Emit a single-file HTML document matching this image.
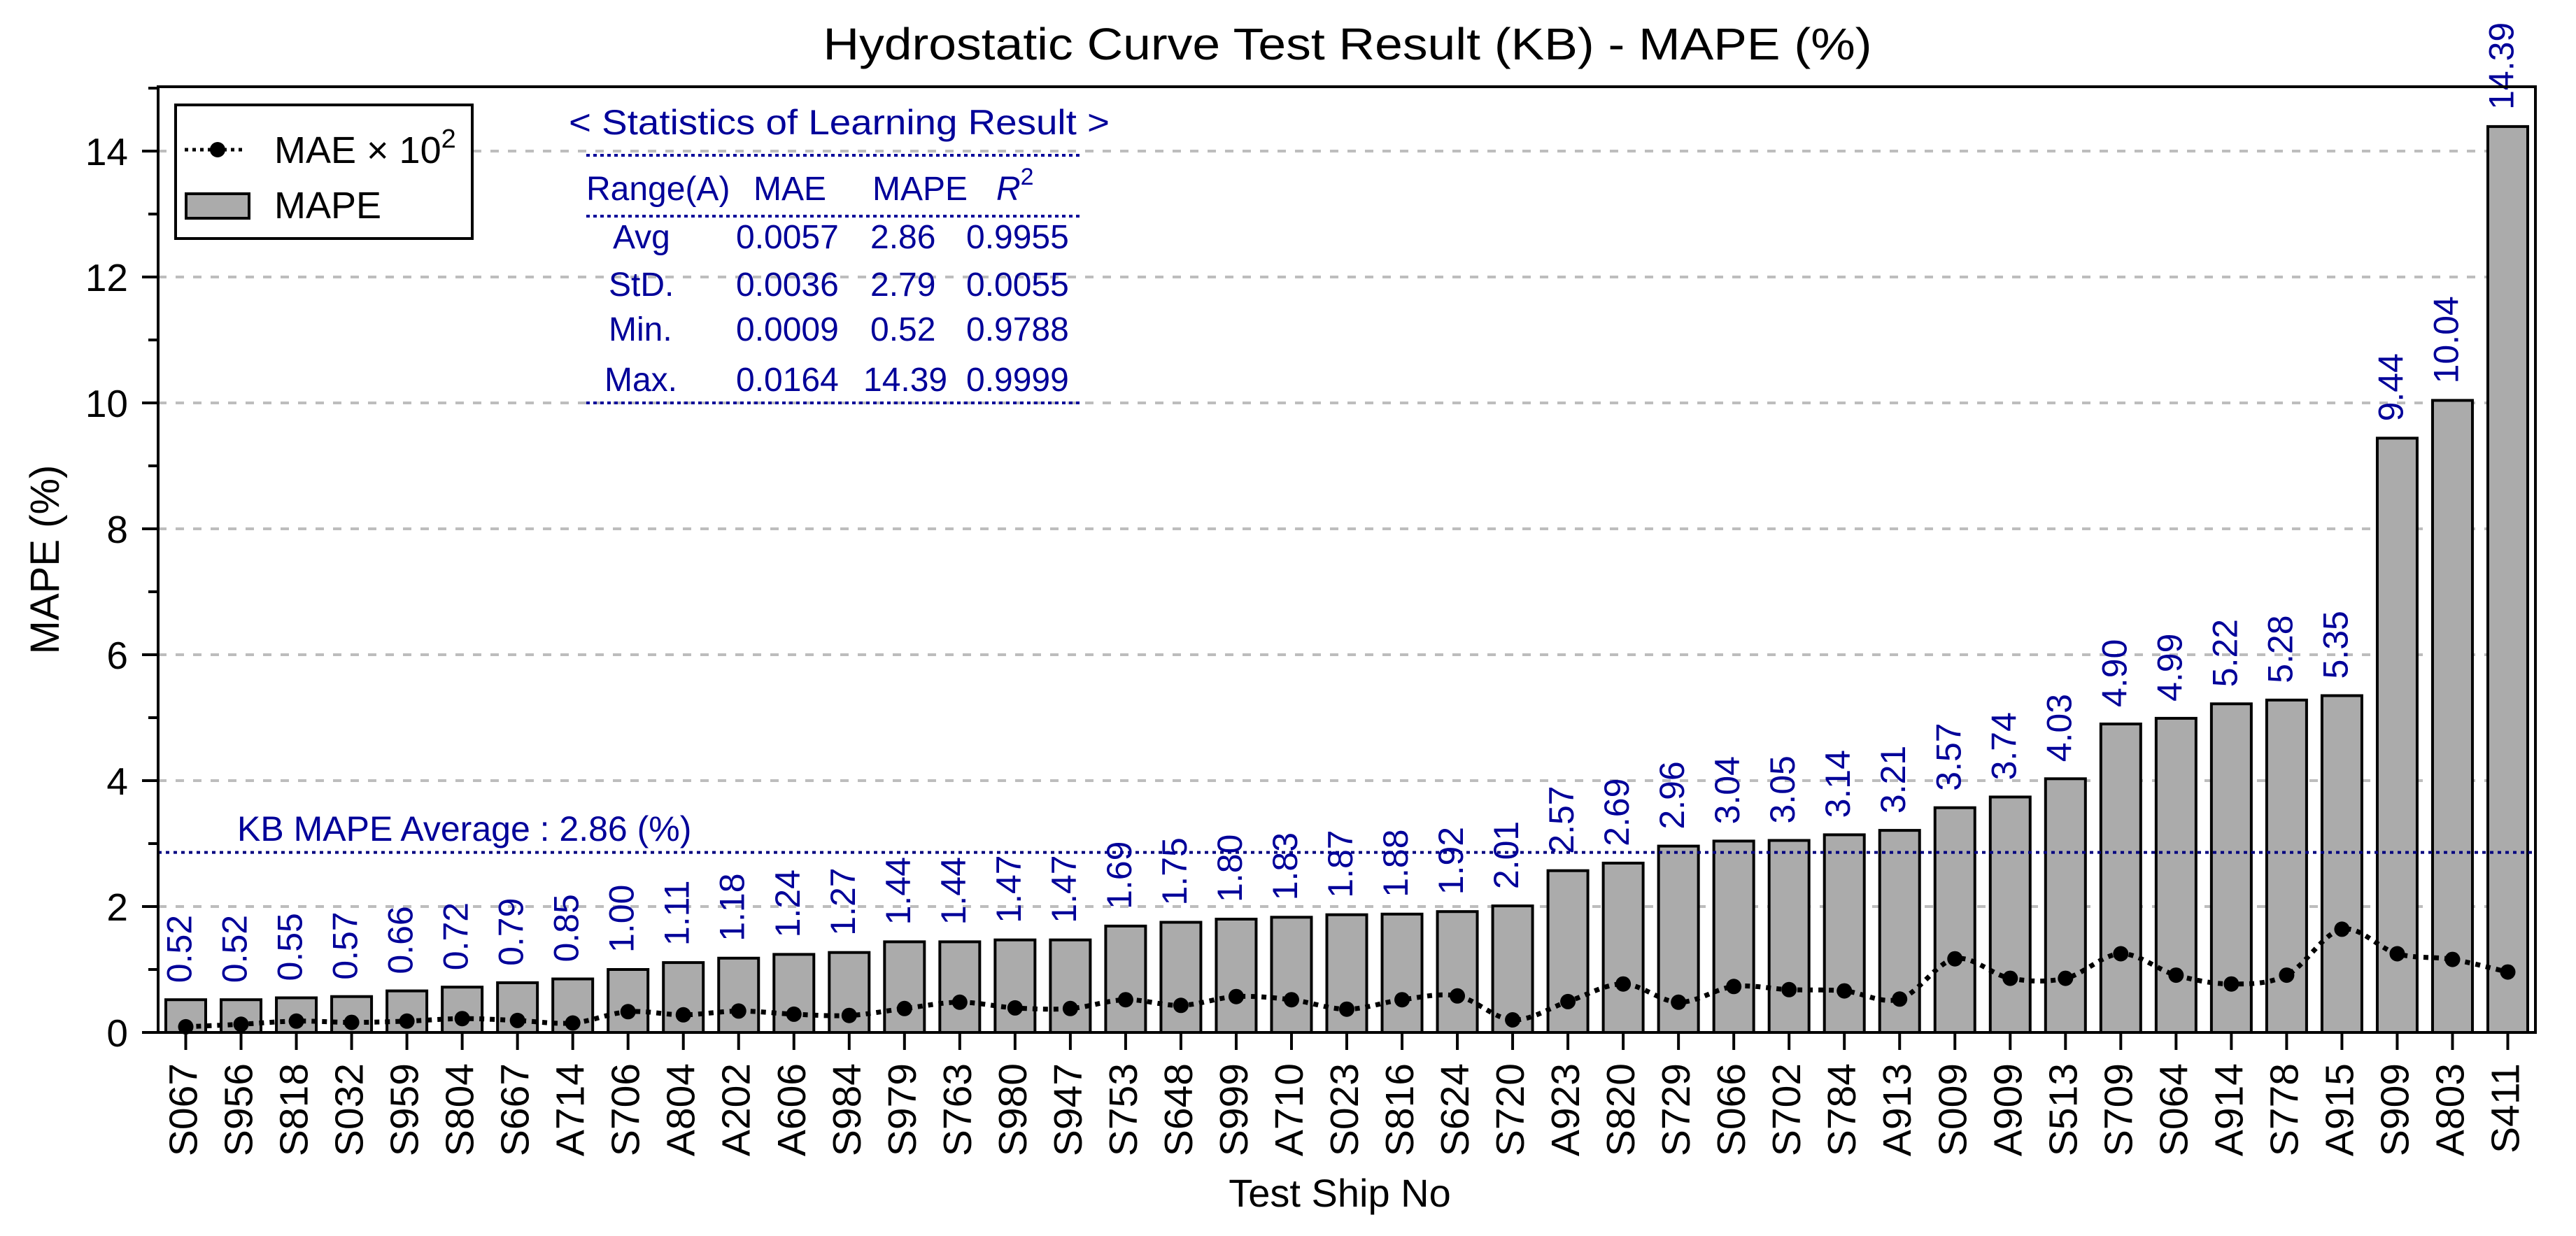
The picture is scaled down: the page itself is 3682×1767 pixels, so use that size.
<!DOCTYPE html>
<html><head><meta charset="utf-8"><style>
html,body{margin:0;padding:0;background:#fff}
svg{display:block;font-family:"Liberation Sans",Arial,sans-serif}
</style></head><body>
<svg id="chart" width="3682" height="1767" viewBox="0 0 3682 1767" xmlns="http://www.w3.org/2000/svg">
<g id="grid"></g>
<g id="bars"></g>
<line x1="226" x2="3624" y1="1218.6" y2="1218.6" stroke="#000080" stroke-width="4" stroke-dasharray="5 6"/>
<text x="339" y="1202" font-size="50" fill="#000099">KB MAPE Average : 2.86 (%)</text>
<g id="mae"></g>
<g id="vlabels"></g>
<g id="axes"></g>
<rect x="226" y="124" width="3398" height="1352" fill="none" stroke="#000" stroke-width="4"/>
<text x="1926" y="85" font-size="64" text-anchor="middle" textLength="1499" lengthAdjust="spacingAndGlyphs">Hydrostatic Curve Test Result (KB) - MAPE (%)</text>
<text x="1915" y="1725" font-size="56" text-anchor="middle">Test Ship No</text>
<text transform="translate(84,800) rotate(-90)" font-size="58" text-anchor="middle">MAPE (%)</text>
<g>
<rect x="251" y="150" width="424" height="191" fill="#fff" stroke="#000" stroke-width="4"/>
<line x1="264" x2="352" y1="214" y2="214" stroke="#000" stroke-width="5" stroke-dasharray="5 6"/>
<circle cx="311" cy="214" r="11" fill="#000"/>
<text x="392" y="233" font-size="54">MAE × 10<tspan dy="-22" font-size="38">2</tspan></text>
<rect x="266" y="277" width="90" height="35" fill="#ababab" stroke="#000" stroke-width="4"/>
<text x="392" y="312" font-size="54">MAPE</text>
</g>
<g fill="#000099" font-size="48">
<text x="813" y="192" font-size="50" textLength="773" lengthAdjust="spacingAndGlyphs">&lt; Statistics of Learning Result &gt;</text>
<line x1="838" x2="1546" y1="222" y2="222" stroke="#000099" stroke-width="4" stroke-dasharray="5 5"/>
<text x="838" y="286">Range(A)</text>
<text x="1077" y="286">MAE</text>
<text x="1247" y="286">MAPE</text>
<text x="1424" y="286" font-style="italic">R<tspan dy="-22" font-size="34" font-style="normal">2</tspan></text>
<line x1="838" x2="1546" y1="309" y2="309" stroke="#000099" stroke-width="4" stroke-dasharray="5 5"/>
<text x="876" y="355">Avg</text>
<text x="1052" y="355">0.0057</text>
<text x="1244" y="355">2.86</text>
<text x="1381" y="355">0.9955</text>
<text x="870" y="423">StD.</text>
<text x="1052" y="423">0.0036</text>
<text x="1244" y="423">2.79</text>
<text x="1381" y="423">0.0055</text>
<text x="870" y="487">Min.</text>
<text x="1052" y="487">0.0009</text>
<text x="1244" y="487">0.52</text>
<text x="1381" y="487">0.9788</text>
<text x="864" y="559">Max.</text>
<text x="1052" y="559">0.0164</text>
<text x="1234" y="559">14.39</text>
<text x="1381" y="559">0.9999</text>
<line x1="838" x2="1546" y1="576" y2="576" stroke="#000099" stroke-width="4" stroke-dasharray="5 5"/>
</g>
</svg>
<script>
const categories = ["S067","S956","S818","S032","S959","S804","S667","A714","S706","A804","A202","A606","S984","S979","S763","S980","S947","S753","S648","S999","A710","S023","S816","S624","S720","A923","S820","S729","S066","S702","S784","A913","S009","A909","S513","S709","S064","A914","S778","A915","S909","A803","S411"];
const mapeValues = [0.52,0.52,0.55,0.57,0.66,0.72,0.79,0.85,1.00,1.11,1.18,1.24,1.27,1.44,1.44,1.47,1.47,1.69,1.75,1.80,1.83,1.87,1.88,1.92,2.01,2.57,2.69,2.96,3.04,3.05,3.14,3.21,3.57,3.74,4.03,4.90,4.99,5.22,5.28,5.35,9.44,10.04,14.39];
const maeValues = [0.09,0.13,0.18,0.16,0.18,0.22,0.19,0.15,0.33,0.28,0.34,0.29,0.27,0.38,0.48,0.39,0.38,0.52,0.43,0.57,0.52,0.37,0.52,0.58,0.20,0.49,0.77,0.48,0.73,0.68,0.66,0.53,1.17,0.86,0.86,1.25,0.91,0.77,0.91,1.64,1.25,1.16,0.96];
const majorTicks = [0,2,4,6,8,10,12,14];
const minorTicks = [1,3,5,7,9,11,13,15];
const avgValue = 2.86;

const NS = "http://www.w3.org/2000/svg";
const X0 = 226, X1 = 3624, Y0 = 1476, PXU = 90;
const band = (X1 - X0) / categories.length;
const xc = i => X0 + band * (i + 0.5);
const y = v => Y0 - v * PXU;
function mk(tag, attrs, parent, txt) {
  const e = document.createElementNS(NS, tag);
  for (const k in attrs) e.setAttribute(k, attrs[k]);
  if (txt !== undefined) e.textContent = txt;
  parent.appendChild(e);
  return e;
}
const grid = document.getElementById('grid');
const axes = document.getElementById('axes');
majorTicks.forEach(t => {
  if (t > 0) {
    const g = mk('line', {x1: X0, x2: X1, y1: y(t), y2: y(t), stroke: '#bdbdbd', 'stroke-width': 4, 'stroke-dasharray': '12 13'}, grid);
    
    
  }
  const tk = mk('line', {x1: X0 - 23, x2: X0, y1: y(t), y2: y(t), stroke: '#000', 'stroke-width': 4}, axes);
  
  
  const lb = mk('text', {x: 183, y: y(t) + 20, 'font-size': 55, 'text-anchor': 'end'}, axes, String(t));
  
  
});
minorTicks.forEach(t => {
  if (y(t) < 124) return;
  const tk = mk('line', {x1: X0 - 14, x2: X0, y1: y(t), y2: y(t), stroke: '#000', 'stroke-width': 4}, axes);
  
  
});
const bars = document.getElementById('bars');
const vl = document.getElementById('vlabels');
categories.forEach((c, i) => {
  const v = mapeValues[i];
  const b = mk('rect', {x: xc(i) - 28.5, y: y(v), width: 57, height: Y0 - y(v), fill: '#ababab', stroke: '#000', 'stroke-width': 4}, bars);
  
  
  const t = mk('text', {transform: `translate(${xc(i) + 8},${y(v) - 24}) rotate(-90)`, 'font-size': 50, fill: '#000099'}, vl, v.toFixed(2));
  
  
  const tk = mk('line', {x1: xc(i), x2: xc(i), y1: Y0, y2: Y0 + 25, stroke: '#000', 'stroke-width': 4}, axes);
  
  
  const xl = mk('text', {transform: `translate(${xc(i) + 16},1520) rotate(-90)`, 'font-size': 57, 'text-anchor': 'end'}, axes, c);
  
  
});
const mae = document.getElementById('mae');
const pts = maeValues.map((v, i) => [xc(i), y(v)]);
let d = `M${pts[0][0]},${pts[0][1]}`;
for (let i = 0; i < pts.length - 1; i++) {
  const p0 = pts[Math.max(0, i - 1)], p1 = pts[i], p2 = pts[i + 1], p3 = pts[Math.min(pts.length - 1, i + 2)];
  const c1 = [p1[0] + (p2[0] - p0[0]) / 6, p1[1] + (p2[1] - p0[1]) / 6];
  const c2 = [p2[0] - (p3[0] - p1[0]) / 6, p2[1] - (p3[1] - p1[1]) / 6];
  d += ` C${c1[0]},${c1[1]} ${c2[0]},${c2[1]} ${p2[0]},${p2[1]}`;
}
const line = mk('path', {d: d, fill: 'none', stroke: '#000', 'stroke-width': 7, 'stroke-dasharray': '7 8'}, mae);


pts.forEach((p, i) => {
  const c = mk('circle', {cx: p[0], cy: p[1], r: 11, fill: '#000'}, mae);
  
  
});
</script>
</body></html>
